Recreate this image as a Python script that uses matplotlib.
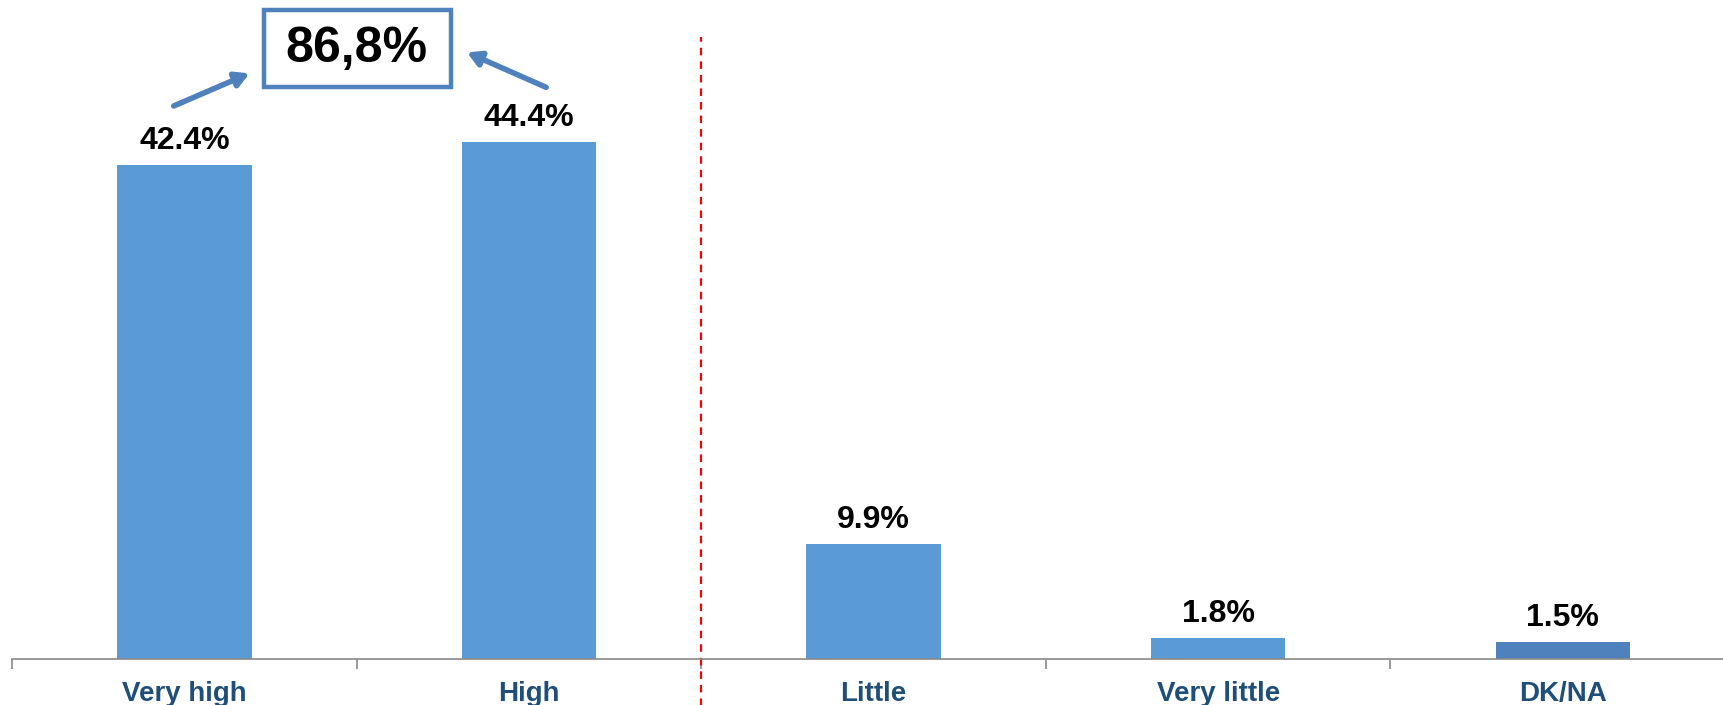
import numpy as np
import matplotlib.pyplot as plt
from matplotlib.patches import Rectangle

categories = ["Very high", "High", "Little", "Very little", "DK/NA"]
values = [42.4, 44.4, 9.9, 1.8, 1.5]
value_labels = ["42.4%", "44.4%", "9.9%", "1.8%", "1.5%"]
total_label = "86,8%"

bar_colors = ["#5B9BD5", "#5B9BD5", "#5B9BD5", "#5B9BD5", "#4F81BD"]
box_color = "#4F81BD"
plt.rcParams["font.family"] = ["Liberation Sans", "DejaVu Sans"]

fig = plt.figure(figsize=(17.23, 7.05), dpi=100)
ax = fig.add_axes([0.007, 0.065, 1.0, 0.935])

x = np.arange(len(categories))
ax.bar(x, values, width=0.39, color=bar_colors, linewidth=0)

ax.set_xlim(-0.5, 4.5)
ax.set_ylim(0, 56.6)

# value labels
for xi, v, lab in zip(x, values, value_labels):
    ax.annotate(lab, (xi, v), xytext=(0, 11.5), textcoords="offset points",
                ha="center", va="baseline", fontsize=23, fontweight="bold",
                color="black")

# axis styling
for s in ["top", "right", "left"]:
    ax.spines[s].set_visible(False)
ax.spines["bottom"].set_color("#898989")
ax.spines["bottom"].set_linewidth(1.2)
ax.set_yticks([])
ax.set_xticks(x)
ax.set_xticklabels(categories, fontsize=20, fontweight="bold", color="#1F4E79")
ax.tick_params(axis="x", which="major", length=0, pad=16)
ax.set_xticks(np.arange(-0.5, 4.6, 1), minor=True)
ax.tick_params(axis="x", which="minor", length=7, width=1.2, color="#898989",
               direction="out")

# red dashed separator
ax.plot([1.5, 1.5], [-5, 53.4], color="red", linestyle=(0, (3.4, 2.7)),
        linewidth=1.6, clip_on=False)

# total box
ax.add_patch(Rectangle((0.23, 49.1), 0.543, 6.6, fill=False,
                       edgecolor=box_color, linewidth=3.2, clip_on=False))
ax.text(0.5, 52.4, total_label, ha="center", va="center", fontsize=36,
        fontweight="bold", color="black")

# arrows
arrow_kw = dict(arrowstyle="-|>,head_length=0.8,head_width=0.45",
                color=box_color, lw=4, shrinkA=0, shrinkB=0)
ax.annotate("", xy=(0.189, 50.3), xytext=(-0.031, 47.5), arrowprops=arrow_kw)
ax.annotate("", xy=(0.82, 52.1), xytext=(1.05, 49.1), arrowprops=arrow_kw)

fig.savefig("out.png", dpi=100)
